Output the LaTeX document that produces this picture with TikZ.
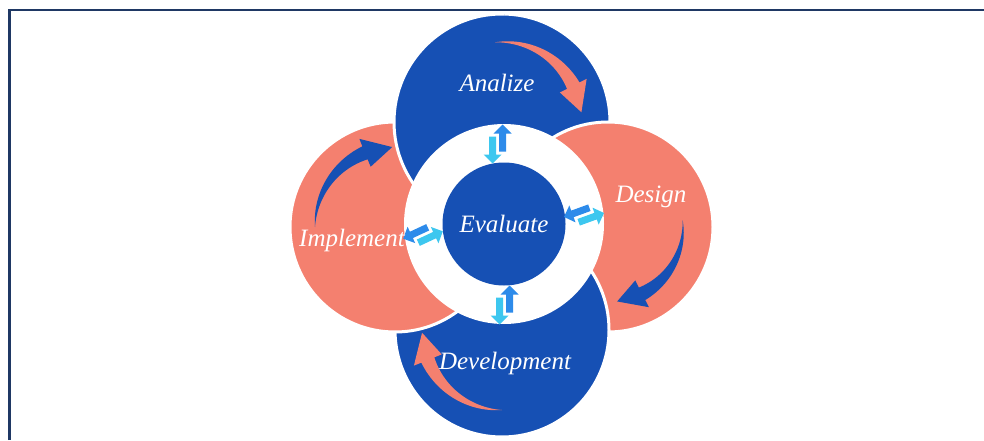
\documentclass[tikz,border=0pt]{standalone}
\usepackage{fontspec}
\setmainfont{Liberation Serif}
\definecolor{deepblue}{HTML}{1650B4}
\definecolor{salmon}{HTML}{F4806F}
\definecolor{skyblue}{HTML}{2D8BEA}
\definecolor{aqua}{HTML}{3DC7EF}
\definecolor{framenavy}{HTML}{1F3864}
\tikzset{
    petal/.style = {draw=white, line width=3pt},
    stage/.style = {text=white, font=\fontsize{25}{30}\selectfont\itshape}
}
% tapered arrow turning clockwise round a centre: centre, start angle, radius, colour
\newcommand{\turnarrow}[4]{%
    \fill[#4, shift={(#1)}]
        plot[domain=0:1, samples=30] ({#2-68*\x}:{#3+7*\x})
        -- ({#2-68}:{#3+15}) -- ({#2-88}:{#3}) -- ({#2-68}:{#3-15})
        -- plot[domain=1:0, samples=30] ({#2-68*\x}:{#3-7*\x}) -- cycle;
}
% two small block arrows side by side: position, angle
\newcommand{\swaparrows}[2]{%
    \begin{scope}[shift={(#1)}, rotate=#2]
        \fill[skyblue, shift={(6,-5)}]
            (-13.5,-3.5) -- (4.5,-3.5) -- (4.5,-9) -- (13.5,0) -- (4.5,9) -- (4.5,3.5) -- (-13.5,3.5) -- cycle;
        \fill[aqua, shift={(-6,5)}, rotate=180]
            (-13.5,-3.5) -- (4.5,-3.5) -- (4.5,-9) -- (13.5,0) -- (4.5,9) -- (4.5,3.5) -- (-13.5,3.5) -- cycle;
    \end{scope}
}

\begin{document}
\begin{tikzpicture}[x=1pt, y=1pt]
    \useasboundingbox (0,0) rectangle (984,440);
    \draw[framenavy, line width=2.7pt] (9.7,0) -- (9.7,430) -- (984,430);

    \coordinate (analize) at (502,318);
    \coordinate (design) at (608,213);
    \coordinate (development) at (502,110);
    \coordinate (implement) at (395,213);
    \coordinate (evaluate) at (504,216);

    \filldraw[petal, fill=deepblue] (analize) circle (108);
    \filldraw[petal, fill=salmon] (design) circle (105);
    \filldraw[petal, fill=deepblue] (development) circle (107);
    \filldraw[petal, fill=salmon] (implement) circle (105);
    \begin{scope}
        \clip (0,216) rectangle (504,440);
        \filldraw[petal, fill=deepblue] (analize) circle (108);
    \end{scope}

    \fill[white] (evaluate) circle (100);
    \fill[deepblue] (evaluate) circle (61.5);

    \turnarrow{analize}{95}{80}{salmon}
    \turnarrow{design}{5}{75}{deepblue}
    \turnarrow{development}{-90}{80}{salmon}
    \turnarrow{implement}{180}{80}{deepblue}

    \swaparrows{497.5,296}{90}
    \swaparrows{504.5,135}{90}
    \swaparrows{584,225}{200}
    \swaparrows{423,205}{205}

    \node[stage] (analizelabel) at (497,357) {Analize};
    \node[stage] (designlabel) at (651,243) {Design};
    \node[stage] (developmentlabel) at (505,77) {Development};
    \node[stage] (implementlabel) at (352,200) {Implement};
    \node[stage] (evaluatelabel) at (evaluate) {Evaluate};
\end{tikzpicture}
\end{document}
